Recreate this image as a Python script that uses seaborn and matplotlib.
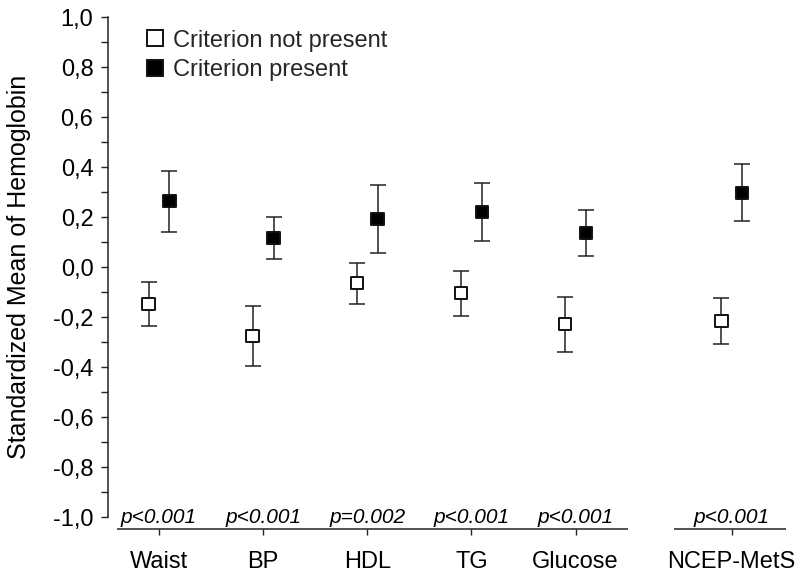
import numpy as np
import pandas as pd
import seaborn as sns
import matplotlib.pyplot as plt
from matplotlib.lines import Line2D
from matplotlib.ticker import MultipleLocator, FuncFormatter
from matplotlib.transforms import ScaledTranslation

# Criteria and p-values
categories = ["Waist", "BP", "HDL", "TG", "Glucose", "NCEP-MetS"]
p_labels = ["p<0.001", "p<0.001", "p=0.002", "p<0.001", "p<0.001", "p<0.001"]

# Standardized hemoglobin means with 95% CI, criterion not present
absent_mean = [-0.148, -0.276, -0.065, -0.105, -0.229, -0.216]
absent_low = [-0.235, -0.397, -0.147, -0.195, -0.339, -0.308]
absent_high = [-0.061, -0.155, 0.017, -0.016, -0.120, -0.123]

# Criterion present
present_mean = [0.263, 0.116, 0.191, 0.221, 0.137, 0.297]
present_low = [0.140, 0.032, 0.055, 0.105, 0.044, 0.183]
present_high = [0.385, 0.200, 0.329, 0.337, 0.228, 0.411]

groups = ["Criterion not present", "Criterion present"]

sns.set_theme(style="ticks")
plt.rcParams["font.family"] = ["Liberation Sans", "DejaVu Sans"]

DPI = 100
fig = plt.figure(figsize=(7.98, 5.73), dpi=DPI)
ax = fig.add_axes([0.1353, 0.0977, 0.8534, 0.8726])

# composite syndrome set apart from the single criteria
pos = np.arange(len(categories), dtype=float)
pos[-1] += 0.5
shift = 0.1

df = pd.DataFrame({
    "x": np.r_[pos - shift, pos + shift],
    "mean": absent_mean + present_mean,
    "low": absent_low + present_low,
    "high": absent_high + present_high,
    "group": [groups[0]] * len(categories) + [groups[1]] * len(categories),
})

line_col = "#222222"
for g in groups:
    sub = df[df["group"] == g]
    ax.errorbar(sub["x"], sub["mean"],
                yerr=[sub["mean"] - sub["low"], sub["high"] - sub["mean"]],
                fmt="none", ecolor=line_col, elinewidth=1.1,
                capsize=5.6, capthick=1.1, zorder=1)

sns.scatterplot(data=df, x="x", y="mean", hue="group",
                palette={groups[0]: "white", groups[1]: "black"},
                marker="s", s=80, edgecolor="#111111", linewidth=1.4,
                legend=False, zorder=3, ax=ax)

ax.set_xlim(-0.49, 6.05)
ax.set_ylim(-1.0, 1.0)
ax.yaxis.set_major_locator(MultipleLocator(0.2))
ax.yaxis.set_minor_locator(MultipleLocator(0.1))


def comma_fmt(v, _):
    s = f"{v:.1f}"
    if s == "-0.0":
        s = "0.0"
    return s.replace(".", ",")


ax.yaxis.set_major_formatter(FuncFormatter(comma_fmt))
ax.set_xticks(pos, categories)
ax.set_xlabel("")
ax.set_ylabel("Standardized Mean of Hemoglobin", fontsize=18, color="black")
ax.yaxis.set_label_coords(-0.113, 0.5)

ax.tick_params(axis="y", which="both", direction="out", length=5.0, width=1.0,
               color=line_col, labelsize=17, pad=5.5, labelcolor="black")
ax.tick_params(axis="x", direction="out", length=4.0, width=1.0,
               color=line_col, labelsize=17, pad=12, labelcolor="black")

for side in ("top", "right"):
    ax.spines[side].set_visible(False)
ax.spines["left"].set_color(line_col)
ax.spines["left"].set_linewidth(1.1)

# broken x axis drawn slightly below the plotting area
drop_px = 12
ax.spines["bottom"].set_position(("outward", drop_px * 72 / DPI))
ax.spines["bottom"].set_visible(False)
trans = ax.get_xaxis_transform() + ScaledTranslation(0, -drop_px / DPI, fig.dpi_scale_trans)
for x0, x1 in [(-0.40, 4.50), (4.95, 6.02)]:
    ax.plot([x0, x1], [0, 0], transform=trans, color=line_col, lw=1.1,
            clip_on=False, solid_capstyle="butt")

for x, p in zip(pos, p_labels):
    ax.text(x, -1.0, p, ha="center", va="center", style="italic",
            fontsize=15, color="black")

handles = [
    Line2D([], [], marker="s", ls="none", mfc="white", mec="#111111", mew=1.4,
           ms=11.5, label=groups[0]),
    Line2D([], [], marker="s", ls="none", mfc="black", mec="#111111", mew=1.4,
           ms=11.5, label=groups[1]),
]
ax.legend(handles=handles, loc="upper left", bbox_to_anchor=(0.055, 0.975),
          frameon=False, fontsize=17, handlelength=0.8, handletextpad=0.35,
          labelspacing=0.33, borderaxespad=0, borderpad=0)

fig.savefig("out.png", dpi=DPI)
